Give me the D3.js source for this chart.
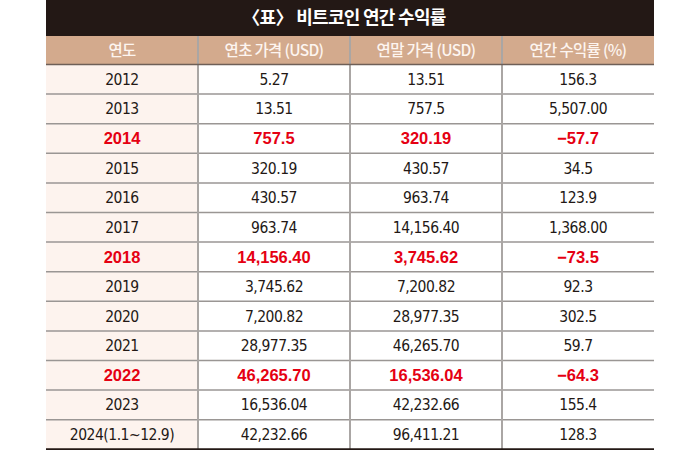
<!DOCTYPE html>
<html>
<head>
<meta charset="utf-8">
<script src="https://cdn.jsdelivr.net/npm/d3@7"></script>
<style>
  body { margin: 0; background: #fff; }
</style>
</head>
<body>
<div id="container"></div>
<script>
// 표 크기
const width = 700;
const height = 450;

const left = 46, right = 654;
const titleH = 36, headerBottom = 64.5, bottom = 449.3;

// 데이터
const title = "〈표〉 비트코인 연간 수익률";
const columns = ["연도", "연초 가격 (USD)", "연말 가격 (USD)", "연간 수익률 (%)"];
const years = ["2012", "2013", "2014", "2015", "2016", "2017", "2018", "2019", "2020", "2021", "2022", "2023", "2024(1.1~12.9)"];
const openPrices = ["5.27", "13.51", "757.5", "320.19", "430.57", "963.74", "14,156.40", "3,745.62", "7,200.82", "28,977.35", "46,265.70", "16,536.04", "42,232.66"];
const closePrices = ["13.51", "757.5", "320.19", "430.57", "963.74", "14,156.40", "3,745.62", "7,200.82", "28,977.35", "46,265.70", "16,536.04", "42,232.66", "96,411.21"];
const returns = ["156.3", "5,507.00", "−57.7", "34.5", "123.9", "1,368.00", "−73.5", "92.3", "302.5", "59.7", "−64.3", "155.4", "128.3"];
const redYears = ["2014", "2018", "2022"];

const rows = years.map((y, i) => [y, openPrices[i], closePrices[i], returns[i]]);

// 스케일
const x = d3.scaleBand().domain(d3.range(columns.length)).range([left, right]);
const y = d3.scaleBand().domain(d3.range(rows.length)).range([headerBottom, bottom]);

const svg = d3.create("svg")
    .attr("width", width)
    .attr("height", height);

// 제목 띠
svg.append("rect")
    .attr("x", left).attr("y", 0)
    .attr("width", right - left).attr("height", titleH)
    .attr("fill", "#231815");

svg.append("text")
    .attr("x", 344)
    .attr("y", 18)
    .attr("dy", "0.36em")
    .attr("text-anchor", "middle")
    .attr("fill", "#fff")
    .style("font-family", "'Noto Sans CJK KR', sans-serif")
    .style("font-size", "18px")
    .style("font-weight", "bold")
    .style("letter-spacing", "-0.7px")
    .text(title);

// 머리행
svg.append("rect")
    .attr("x", left).attr("y", titleH)
    .attr("width", right - left).attr("height", headerBottom - titleH)
    .attr("fill", "#d3aa8d");

svg.append("g")
  .selectAll("text")
  .data(columns)
  .join("text")
    .attr("x", (d, i) => x(i) + x.bandwidth() / 2)
    .attr("y", (titleH + headerBottom) / 2)
    .attr("dy", "0.36em")
    .attr("text-anchor", "middle")
    .attr("fill", "#fdf5f0")
    .style("font-family", "'Noto Sans CJK KR', sans-serif")
    .style("font-size", "15.5px")
    .style("font-weight", "500")
    .style("letter-spacing", "-0.7px")
    .text(d => d);

// 첫 열 배경
svg.append("rect")
    .attr("x", x(0)).attr("y", headerBottom)
    .attr("width", x.bandwidth()).attr("height", bottom - headerBottom)
    .attr("fill", "#fdf3ee");

// 가로선
svg.append("g")
  .selectAll("line")
  .data(d3.range(1, rows.length))
  .join("line")
    .attr("x1", left).attr("x2", right)
    .attr("y1", i => y(i)).attr("y2", i => y(i))
    .attr("stroke", "#9a9694")
    .attr("stroke-width", 1.5);

// 세로선
svg.append("g")
  .selectAll("line")
  .data(d3.range(1, columns.length))
  .join("line")
    .attr("x1", i => x(i)).attr("x2", i => x(i))
    .attr("y1", titleH).attr("y2", bottom)
    .attr("stroke", "#aaa6a4")
    .attr("stroke-width", 2);

// 머리행 아래선, 바닥선
svg.append("line")
    .attr("x1", left).attr("x2", right)
    .attr("y1", headerBottom).attr("y2", headerBottom)
    .attr("stroke", "#6e5f57").attr("stroke-width", 1.5);

svg.append("line")
    .attr("x1", left).attr("x2", right)
    .attr("y1", bottom).attr("y2", bottom)
    .attr("stroke", "#231815").attr("stroke-width", 2);

// 셀 텍스트
const rowG = svg.append("g")
  .selectAll("g")
  .data(rows)
  .join("g")
    .attr("transform", (d, i) => `translate(0,${y(i) + y.bandwidth() / 2})`);

rowG.selectAll("text")
  .data(d => d.map(v => ({ v, red: redYears.includes(d[0]) })))
  .join("text")
    .attr("x", (d, i) => x(i) + x.bandwidth() / 2)
    .attr("dy", "0.36em")
    .attr("text-anchor", "middle")
    .attr("fill", d => d.red ? "#e50012" : "#231815")
    .style("font-family", d => d.red ? "'Liberation Sans', Arial, sans-serif" : "'Liberation Sans Narrow', 'DejaVu Sans Condensed', sans-serif")
    .style("font-size", d => d.red ? "16.5px" : "15.5px")
    .style("font-weight", d => d.red ? "bold" : "normal")
    .style("letter-spacing", d => d.red ? "0px" : "-0.5px")
    .text(d => d.v);

container.append(svg.node());
</script>
</body>
</html>
